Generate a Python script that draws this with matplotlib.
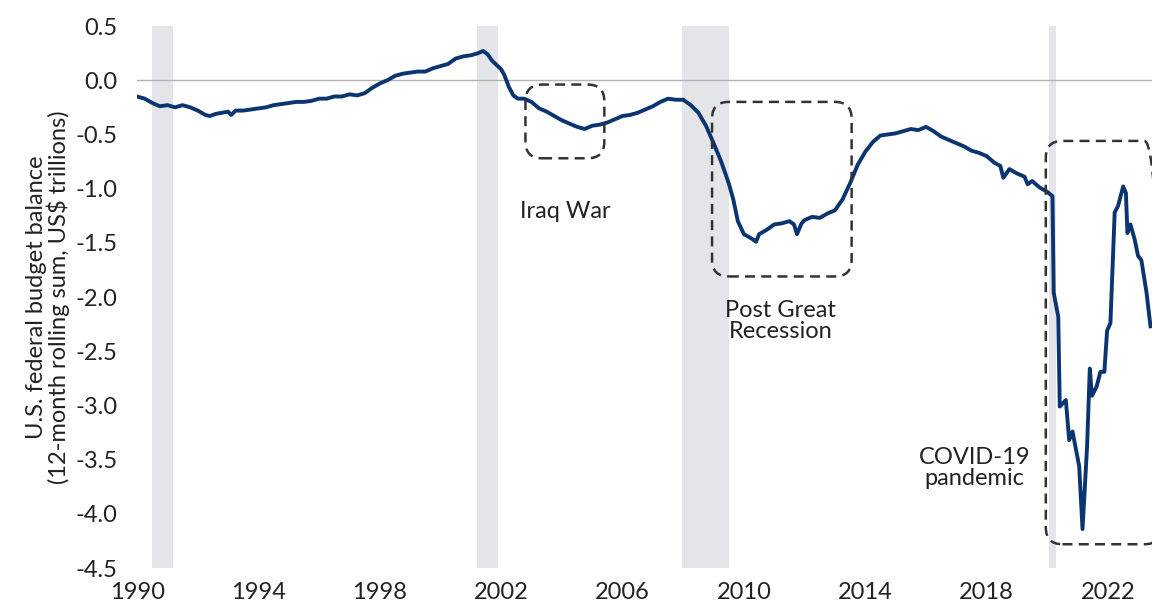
import matplotlib.pyplot as plt
from matplotlib.patches import FancyBboxPatch

plt.rcParams["font.family"] = ["Lato", "DejaVu Sans"]
plt.rcParams["axes.unicode_minus"] = False

# 12-month rolling budget balance, US$ trillions
years = [
    1990.00, 1990.25, 1990.50, 1990.75, 1991.00, 1991.25, 1991.50, 1991.75,
    1992.00, 1992.25, 1992.40, 1992.60, 1992.80, 1993.00, 1993.10, 1993.25,
    1993.50, 1993.75, 1994.00, 1994.25, 1994.50, 1994.75, 1995.00, 1995.25,
    1995.50, 1995.75, 1996.00, 1996.25, 1996.50, 1996.75, 1997.00, 1997.25,
    1997.50, 1997.75, 1998.00, 1998.25, 1998.50, 1998.75, 1999.00, 1999.25,
    1999.50, 1999.75, 2000.00, 2000.25, 2000.50, 2000.75, 2001.00, 2001.25,
    2001.40, 2001.55, 2001.70, 2001.85, 2002.00, 2002.10, 2002.25, 2002.40,
    2002.55, 2002.75, 2003.00, 2003.25, 2003.50, 2003.75, 2004.00, 2004.25,
    2004.50, 2004.75, 2005.00, 2005.25, 2005.50, 2005.75, 2006.00, 2006.25,
    2006.50, 2006.75, 2007.00, 2007.25, 2007.50, 2007.75, 2008.00, 2008.25,
    2008.50, 2008.75, 2009.00, 2009.25, 2009.50, 2009.65, 2009.80, 2010.00,
    2010.25, 2010.40, 2010.50, 2010.75, 2011.00, 2011.25, 2011.50, 2011.65,
    2011.75, 2011.90, 2012.00, 2012.25, 2012.50, 2012.75, 2013.00, 2013.25,
    2013.50, 2013.75, 2014.00, 2014.25, 2014.50, 2014.75, 2015.00, 2015.25,
    2015.50, 2015.75, 2016.00, 2016.25, 2016.50, 2016.75, 2017.00, 2017.25,
    2017.50, 2017.75, 2018.00, 2018.25, 2018.45, 2018.55, 2018.75, 2019.00,
    2019.25, 2019.35, 2019.50, 2019.75, 2020.00, 2020.17, 2020.21, 2020.36,
    2020.41, 2020.61, 2020.72, 2020.83, 2021.05, 2021.16, 2021.31, 2021.40,
    2021.47, 2021.62, 2021.75, 2021.88, 2021.97, 2022.08, 2022.22, 2022.33,
    2022.50, 2022.59, 2022.64, 2022.74, 2022.88, 2022.99, 2023.10, 2023.27,
    2023.40,
]
balance = [
    -0.15, -0.17, -0.21, -0.24, -0.23, -0.25, -0.23, -0.25,
    -0.28, -0.32, -0.33, -0.31, -0.30, -0.29, -0.32, -0.28,
    -0.28, -0.27, -0.26, -0.25, -0.23, -0.22, -0.21, -0.20,
    -0.20, -0.19, -0.17, -0.17, -0.15, -0.15, -0.13, -0.14,
    -0.12, -0.07, -0.03, 0.00, 0.04, 0.06, 0.07, 0.08,
    0.08, 0.11, 0.13, 0.15, 0.20, 0.22, 0.23, 0.25,
    0.27, 0.24, 0.18, 0.14, 0.10, 0.05, -0.06, -0.14,
    -0.17, -0.17, -0.20, -0.26, -0.29, -0.33, -0.37, -0.40,
    -0.43, -0.45, -0.42, -0.41, -0.39, -0.36, -0.33, -0.32,
    -0.30, -0.27, -0.24, -0.20, -0.17, -0.18, -0.18, -0.23,
    -0.30, -0.42, -0.58, -0.75, -0.95, -1.10, -1.30, -1.42,
    -1.46, -1.49, -1.42, -1.38, -1.33, -1.32, -1.30, -1.33,
    -1.42, -1.32, -1.29, -1.26, -1.27, -1.23, -1.20, -1.10,
    -0.95, -0.78, -0.66, -0.57, -0.51, -0.50, -0.49, -0.47,
    -0.45, -0.46, -0.43, -0.47, -0.52, -0.55, -0.58, -0.61,
    -0.65, -0.67, -0.70, -0.76, -0.79, -0.90, -0.82, -0.86,
    -0.89, -0.96, -0.93, -0.99, -1.03, -1.07, -1.96, -2.18,
    -3.01, -2.95, -3.32, -3.24, -3.56, -4.14, -3.38, -2.66,
    -2.91, -2.83, -2.69, -2.69, -2.31, -2.24, -1.22, -1.16,
    -0.98, -1.04, -1.41, -1.33, -1.47, -1.62, -1.66, -1.96,
    -2.27,
]

# recession periods (start, end)
recessions = [(1990.5, 1991.2), (2001.2, 2001.9), (2007.95, 2009.5), (2020.05, 2020.3)]

# highlighted episodes: label, box (x0, x1, y0, y1), label position
episodes = [
    ("Iraq War", (2002.8, 2005.4, -0.72, -0.04), (2004.1, -1.21)),
    ("Post Great\nRecession", (2008.95, 2013.55, -1.81, -0.20), (2011.2, -2.22)),
    ("COVID-19\npandemic", (2019.95, 2023.75, -4.28, -0.56), (2017.6, -3.58)),
]

fig = plt.figure(figsize=(11.52, 6.05), dpi=100)
ax = fig.add_axes([0.119, 0.061, 0.881, 0.896])
ax.set_xlim(1990, 2023.45)
ax.set_ylim(-4.5, 0.5)

for x0, x1 in recessions:
    ax.axvspan(x0, x1, color="#e4e5e8", lw=0, zorder=0)
ax.axhline(0, color="#b3b3b3", lw=1.0, zorder=1)

ax.plot(years, balance, color="#0a3570", lw=2.8, zorder=3, solid_joinstyle="round")

# rounded dashed boxes; mutation_aspect keeps the corners circular on screen
px_x = ax.transData.transform((1, 0))[0] - ax.transData.transform((0, 0))[0]
px_y = ax.transData.transform((0, 1))[1] - ax.transData.transform((0, 0))[1]
aspect = px_x / px_y
for label, (x0, x1, y0, y1), (tx, ty) in episodes:
    box = FancyBboxPatch((x0, y0), x1 - x0, y1 - y0,
                         boxstyle="round,pad=0,rounding_size=0.55",
                         mutation_aspect=aspect, fill=False,
                         ec="#333333", lw=1.8, ls=(0, (4, 2.5)),
                         zorder=4, clip_on=False)
    ax.add_patch(box)
    ax.text(tx, ty, label, ha="center", va="center", fontsize=17,
            color="#222222", linespacing=1.0, zorder=5)

ax.set_xticks(range(1990, 2023, 4))
ax.set_yticks([0.5 - 0.5 * i for i in range(11)])
ax.set_yticklabels([f"{v:.1f}" for v in ax.get_yticks()])
ax.tick_params(length=0, labelsize=17, colors="#222222")
ax.tick_params(axis="x", pad=10)
ax.tick_params(axis="y", pad=14)
for s in ax.spines.values():
    s.set_visible(False)
ax.set_ylabel("U.S. federal budget balance\n(12-month rolling sum, US$ trillions)",
              fontsize=17, color="#222222", linespacing=0.95, labelpad=4)

fig.savefig("out.png", dpi=100)
